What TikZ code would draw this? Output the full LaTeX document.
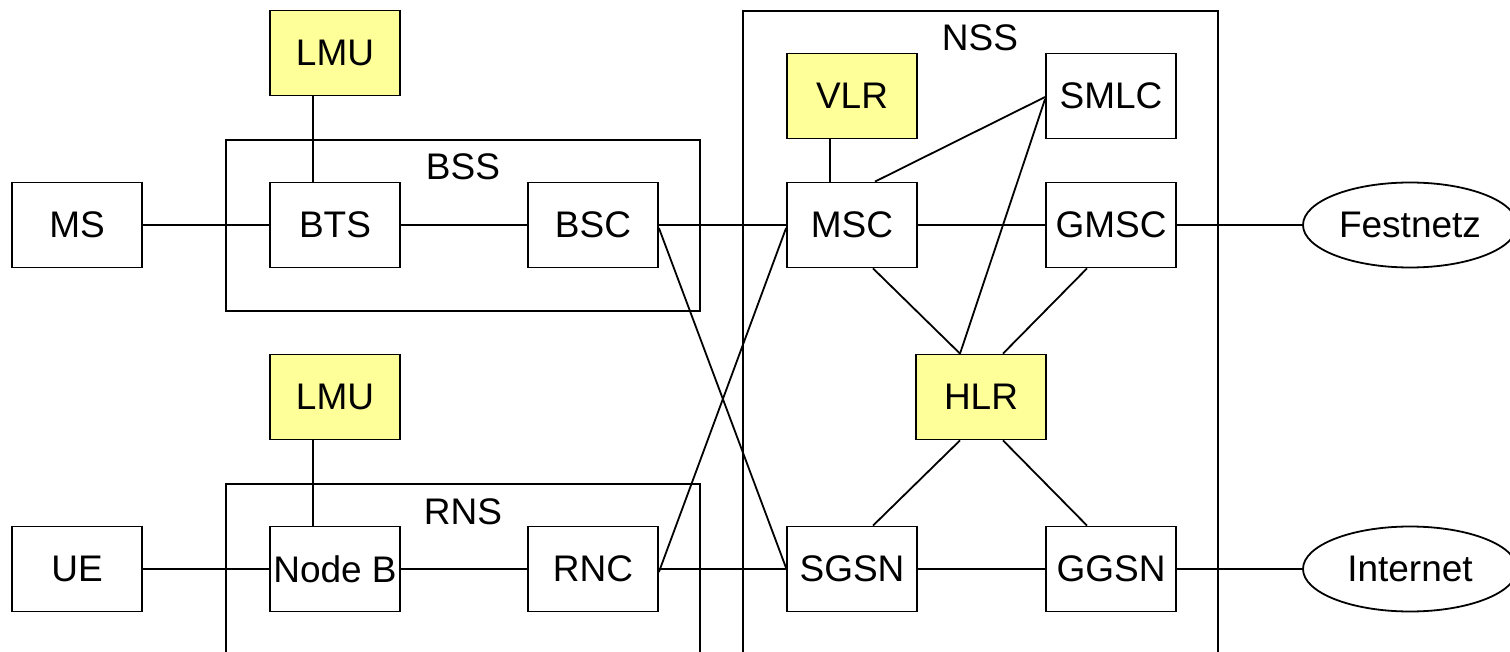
\documentclass[tikz,border=0pt]{standalone}
\usepackage{fontspec}
\setmainfont{Liberation Sans}
\usetikzlibrary{shapes.geometric}
\definecolor{unitfill}{HTML}{FFFF99}
\begin{document}
\begin{tikzpicture}[x=1pt,y=-1pt,line width=1.8pt,
  every node/.style={font=\fontsize{37}{40}\selectfont},
  unit/.style={draw,rectangle,minimum width=130pt,minimum height=85pt,inner sep=0pt,fill=white},
  locunit/.style={unit,fill=unitfill},
  netcloud/.style={draw,ellipse,minimum width=214pt,minimum height=85pt,inner sep=0pt,fill=white},
  group/.style={draw},
  grouplabel/.style={inner sep=0pt}]
\useasboundingbox (0,0) rectangle (1510,652);
\clip (0,0) rectangle (1510,652);

% subsystem frames
\draw[group] (226,140) rectangle (700,311);
\draw[group] (226,484) rectangle (700,680);
\draw[group] (743,11) rectangle (1218,680);
\node[grouplabel] (bsslbl) at (463,167) {BSS};
\node[grouplabel] (rnslbl) at (463,512) {RNS};
\node[grouplabel] (nsslbl) at (980,38) {NSS};

% network elements
\node[locunit] (lmua) at (335,53) {LMU};
\node[unit] (ms) at (77,225) {MS};
\node[unit] (bts) at (335,225) {BTS};
\node[unit] (bsc) at (593,225) {BSC};
\node[locunit] (lmub) at (335,397) {LMU};
\node[unit] (ue) at (77,569) {UE};
\node[unit] (nodeb) at (335,569) {Node B};
\node[unit] (rnc) at (593,569) {RNC};
\node[locunit] (vlr) at (852,96) {VLR};
\node[unit] (smlc) at (1111,96) {SMLC};
\node[unit] (msc) at (852,225) {MSC};
\node[unit] (gmsc) at (1111,225) {GMSC};
\node[locunit] (hlr) at (981,397) {HLR};
\node[unit] (sgsn) at (852,569) {SGSN};
\node[unit] (ggsn) at (1111,569) {GGSN};
\node[netcloud] (fest) at (1410,225) {Festnetz};
\node[netcloud] (inet) at (1410,569) {Internet};

% links
\draw ([xshift=-22pt]lmua.south) -- ([xshift=-22pt]bts.north);
\draw ([xshift=-22pt]lmub.south) -- ([xshift=-22pt]nodeb.north);
\draw ([xshift=-22pt]vlr.south) -- ([xshift=-22pt]msc.north);
\draw (ms) -- (bts);
\draw (bts) -- (bsc);
\draw (bsc) -- (msc);
\draw (ue) -- (nodeb);
\draw (nodeb) -- (rnc);
\draw (rnc) -- (sgsn);
\draw (msc) -- (gmsc);
\draw (sgsn) -- (ggsn);
\draw (gmsc) -- (fest);
\draw (ggsn) -- (inet);
\draw ([yshift=-3pt]bsc.east) -- ([yshift=1pt]sgsn.west);
\draw ([yshift=-3pt]rnc.east) -- ([yshift=-3pt]msc.west);
\draw ([xshift=23pt]msc.north) -- ([yshift=-1pt]smlc.west);
\draw ([xshift=-21pt]hlr.north) -- ([yshift=-3pt]smlc.west);
\draw ([xshift=21pt]msc.south) -- ([xshift=-21pt]hlr.north);
\draw ([xshift=-24pt]gmsc.south) -- ([xshift=22pt]hlr.north);
\draw ([xshift=-21pt]hlr.south) -- ([xshift=21pt]sgsn.north);
\draw ([xshift=22pt]hlr.south) -- ([xshift=-24pt]ggsn.north);
\end{tikzpicture}
\end{document}
